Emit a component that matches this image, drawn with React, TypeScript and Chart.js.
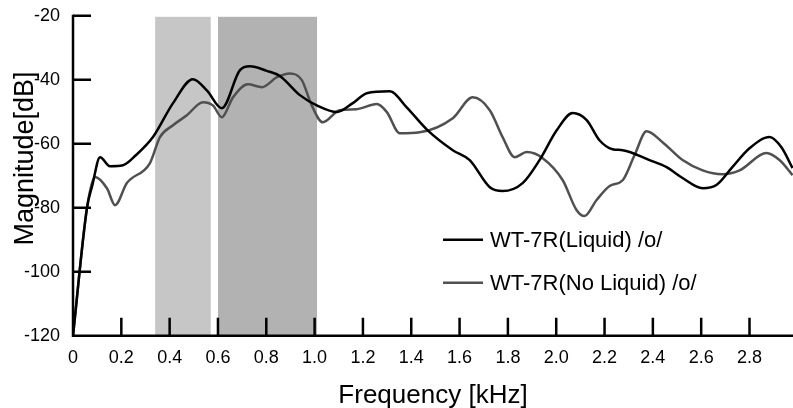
import React, { useEffect, useRef } from 'react';
import { Chart, registerables } from 'chart.js';

Chart.register(...registerables);

const FONT = '"Liberation Sans", Arial, Helvetica, sans-serif';

// ---- data ----
const seriesLabels = ['WT-7R(Liquid) /o/', 'WT-7R(No Liquid) /o/'];

const liquidFreq = [
  0, 0.058, 0.08, 0.112, 0.153, 0.207, 0.26, 0.331, 0.414, 0.496, 0.554, 0.616, 0.691, 0.732,
  0.802, 0.856, 0.939, 1.009, 1.092, 1.158, 1.216, 1.311, 1.381, 1.468, 1.572, 1.642, 1.725,
  1.778, 1.861, 1.931, 2.002, 2.068, 2.126, 2.179, 2.233, 2.275, 2.386, 2.457, 2.523, 2.606,
  2.663, 2.729, 2.8, 2.883, 2.932, 2.978,
];
const liquidMag = [
  -120, -80, -73, -64.2, -67.0, -66.7, -63.6, -57.9, -47.3, -39.8, -43.3, -48.9, -37.0, -35.8,
  -37.2, -38.8, -44.8, -48.0, -50.1, -47.3, -44.2, -43.6, -48.6, -55.8, -62.0, -65.1, -73.6,
  -74.8, -72.3, -65.1, -55.8, -50.4, -52.6, -58.9, -61.7, -62.0, -65.1, -67.3, -70.7, -73.9,
  -72.9, -67.3, -61.4, -57.9, -61.1, -67.6,
];

const noLiquidFreq = [
  0, 0.058, 0.091, 0.141, 0.174, 0.223, 0.318, 0.36, 0.414, 0.471, 0.538, 0.579, 0.616, 0.662,
  0.724, 0.782, 0.844, 0.897, 0.947, 0.988, 1.034, 1.104, 1.174, 1.257, 1.299, 1.352, 1.435,
  1.572, 1.654, 1.725, 1.778, 1.828, 1.878, 1.944, 2.027, 2.084, 2.117, 2.167, 2.221, 2.275,
  2.324, 2.374, 2.44, 2.523, 2.606, 2.688, 2.759, 2.87, 2.924, 2.978,
];
const noLiquidMag = [
  -120, -80, -70.4, -74.0, -79.2, -72.3, -66.1, -57.9, -54.2, -51.1, -47.0, -48.0, -51.7, -45.5,
  -41.4, -42.3, -39.2, -38.0, -40.1, -48.0, -53.3, -49.5, -49.2, -47.6, -50.1, -56.7, -56.4,
  -52.0, -45.5, -49.5, -57.9, -64.2, -62.6, -64.5, -71.4, -80.7, -82.6, -77.6, -73.2, -71.4,
  -63.6, -56.1, -59.5, -65.1, -68.3, -69.5, -68.3, -62.9, -65.1, -69.8,
];

const bandStart = [0.34, 0.6];
const bandEnd = [0.57, 1.01];

const xTicks = [0, 0.2, 0.4, 0.6, 0.8, 1.0, 1.2, 1.4, 1.6, 1.8, 2.0, 2.2, 2.4, 2.6, 2.8];
const xTickLabels = ['0', '0.2', '0.4', '0.6', '0.8', '1.0', '1.2', '1.4', '1.6', '1.8', '2.0', '2.2', '2.4', '2.6', '2.8'];
const yTicks = [-120, -100, -80, -60, -40, -20];
const yTickLabels = ['-120', '-100', '-80', '-60', '-40', '-20'];

const xTitle = 'Frequency [kHz]';
const yTitle = 'Magnitude[dB]';

// ---- styles ----
const seriesColors = ['#000000', '#505050'];
const bandColors = ['#c6c6c6', '#b2b2b2'];

const overlayPlugin = {
  id: 'overlay',
  beforeDatasetsDraw(chart: any) {
    const { ctx, chartArea, scales } = chart;
    const xs = scales.x;
    ctx.save();
    bandStart.forEach((s, i) => {
      const x0 = xs.getPixelForValue(s);
      const x1 = xs.getPixelForValue(bandEnd[i]);
      ctx.fillStyle = bandColors[i];
      ctx.fillRect(x0, chartArea.top + 1, x1 - x0, chartArea.bottom - chartArea.top - 1);
    });
    ctx.restore();
  },
  afterDatasetsDraw(chart: any) {
    const { ctx, chartArea, scales } = chart;
    const xs = scales.x;
    const ys = scales.y;
    const { left, right, top, bottom } = chartArea;
    ctx.save();
    ctx.strokeStyle = '#000';
    ctx.lineWidth = 2.5;
    ctx.lineCap = 'butt';
    ctx.beginPath();
    ctx.moveTo(left, top - 1);
    ctx.lineTo(left, bottom);
    ctx.lineTo(right, bottom);
    ctx.stroke();
    ctx.beginPath();
    yTicks.forEach((v) => {
      if (v === -120) return;
      const py = ys.getPixelForValue(v);
      ctx.moveTo(left, py);
      ctx.lineTo(left + 18, py);
    });
    xTicks.forEach((v) => {
      if (v === 0) return;
      const px = xs.getPixelForValue(v);
      ctx.moveTo(px, bottom);
      ctx.lineTo(px, bottom - 18);
    });
    ctx.stroke();

    // legend
    const lx0 = left + 370;
    const lx1 = left + 410;
    const ty = [top + 224, top + 267];
    chart.data.datasets.forEach((ds: any, i: number) => {
      ctx.strokeStyle = ds.borderColor;
      ctx.lineWidth = 2.5;
      ctx.beginPath();
      ctx.moveTo(lx0, ty[i]);
      ctx.lineTo(lx1, ty[i]);
      ctx.stroke();
      ctx.fillStyle = '#000';
      ctx.font = `22px ${FONT}`;
      ctx.textAlign = 'left';
      ctx.textBaseline = 'alphabetic';
      ctx.fillText(ds.label, lx1 + 7, ty[i] + 7.5);
    });

    // y title
    ctx.translate(32.7, 158.5);
    ctx.rotate(-Math.PI / 2);
    ctx.fillStyle = '#000';
    ctx.font = `27px ${FONT}`;
    ctx.textAlign = 'center';
    ctx.textBaseline = 'alphabetic';
    ctx.fillText(yTitle, 0, 0);
    ctx.restore();
  },
};

export default function App() {
  const ref = useRef<HTMLCanvasElement>(null);
  useEffect(() => {
    document.body.style.margin = '0';
    const chart = new Chart(ref.current as HTMLCanvasElement, {
      type: 'line',
      data: {
        datasets: [
          {
            label: seriesLabels[0],
            data: liquidFreq.map((f, i) => ({ x: f, y: liquidMag[i] })),
            borderColor: seriesColors[0],
            borderWidth: 2.5,
            pointRadius: 0,
            cubicInterpolationMode: 'monotone',
            fill: false,
          },
          {
            label: seriesLabels[1],
            data: noLiquidFreq.map((f, i) => ({ x: f, y: noLiquidMag[i] })),
            borderColor: seriesColors[1],
            borderWidth: 2.5,
            pointRadius: 0,
            cubicInterpolationMode: 'monotone',
            fill: false,
          },
        ],
      },
      options: {
        animation: false,
        responsive: false,
        devicePixelRatio: 1,
        layout: { padding: { top: 15.5, right: 0, left: 0, bottom: 0 } },
        plugins: { legend: { display: false }, tooltip: { enabled: false } },
        scales: {
          x: {
            type: 'linear',
            min: 0,
            max: 2.98,
            afterBuildTicks: (axis: any) => {
              axis.ticks = xTicks.map((v) => ({ value: v }));
            },
            afterFit: (scale: any) => {
              scale.height = 72.3;
            },
            grid: { display: false },
            border: { display: false },
            ticks: {
              padding: 4,
              color: '#000',
              font: { family: FONT, size: 18 },
              maxRotation: 0,
              autoSkip: false,
              callback: (_v: any, i: number) => xTickLabels[i],
            },
            title: {
              display: true,
              text: xTitle,
              color: '#000',
              font: { family: FONT, size: 26 },
              padding: { top: 0, bottom: -3 },
            },
          },
          y: {
            type: 'linear',
            min: -120,
            max: -20,
            afterBuildTicks: (axis: any) => {
              axis.ticks = yTicks.map((v) => ({ value: v }));
            },
            afterFit: (scale: any) => {
              scale.width = 73;
            },
            grid: { display: false },
            border: { display: false },
            ticks: {
              padding: 5,
              color: '#000',
              font: { family: FONT, size: 18 },
              autoSkip: false,
              callback: (_v: any, i: number) => yTickLabels[i],
            },
          },
        },
      },
      plugins: [overlayPlugin],
    } as any);
    return () => chart.destroy();
  }, []);
  return (
    <div style={{ position: 'absolute', left: 0, top: 0, width: 793, height: 408 }}>
      <canvas ref={ref} width={793} height={408} style={{ width: 793, height: 408, display: 'block' }} />
    </div>
  );
}
